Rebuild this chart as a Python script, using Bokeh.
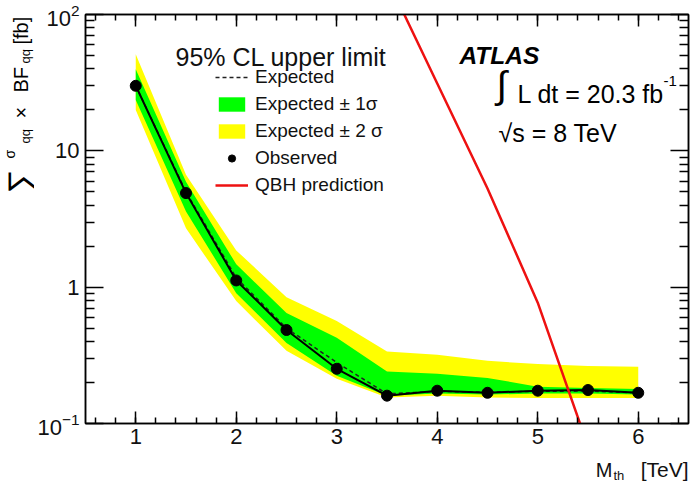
import math

from bokeh.embed import file_html
from bokeh.layouts import column, row
from bokeh.models import (ColumnDataSource, FixedTicker, Label, Legend, LegendItem,
                          LinearAxis, LogAxis, LogTickFormatter, Range1d,
                          SingleIntervalTicker)
from bokeh.plotting import figure
from bokeh.resources import INLINE

# Threshold mass points [TeV]
mass = [1.0, 1.5, 2.0, 2.5, 3.0, 3.5, 4.0, 4.5, 5.0, 5.5, 6.0]

# 95% CL upper limits on sum(sigma x BF) [fb]
observed = [30.0, 4.9, 1.12, 0.485, 0.252, 0.160, 0.174, 0.168, 0.174, 0.176, 0.168]
expected = [30.0, 5.0, 1.17, 0.50, 0.28, 0.165, 0.172, 0.170, 0.172, 0.173, 0.168]
exp_1s_lo = [23.6, 3.59, 0.904, 0.39, 0.224, 0.160, 0.166, 0.163, 0.166, 0.166, 0.163]
exp_1s_hi = [39.7, 5.94, 1.47, 0.646, 0.425, 0.241, 0.232, 0.216, 0.186, 0.182, 0.179]
exp_2s_lo = [19.9, 2.70, 0.79, 0.341, 0.213, 0.155, 0.160, 0.155, 0.154, 0.154, 0.154]
exp_2s_hi = [51.0, 6.68, 1.86, 0.845, 0.565, 0.337, 0.319, 0.288, 0.273, 0.264, 0.261]

# Quantum black hole prediction
qbh_mass = [3.5, 4.0, 4.5, 5.0, 5.5]
qbh_xsec = [184.0, 31.2, 5.3, 0.77, 0.068]

# Axis ticks
y_ticks = [0.1, 1, 10, 100]
y_minor = [m * 10.0 ** e for e in (-1, 0, 1) for m in range(2, 10)]

FONT = "Liberation Sans"

# Page layout: narrow strip for the y title, main plot, strip for the x title
W, H = 696, 482
YT_W = 34                      # y-title strip width
XT_H = 28                      # x-title strip height
MAIN_W, MAIN_H = W - YT_W, H - XT_H
LEFT, RIGHT, TOP, BOTTOM = 51, 8, 14, 31
FRAME_LEFT = YT_W + LEFT       # frame edges on the page
FRAME_BOTTOM = MAIN_H - BOTTOM

src = ColumnDataSource(dict(m=mass, obs=observed, exp=expected,
                            lo1=exp_1s_lo, hi1=exp_1s_hi,
                            lo2=exp_2s_lo, hi2=exp_2s_hi))
qbh = ColumnDataSource(dict(m=qbh_mass, xs=qbh_xsec))

p = figure(width=MAIN_W, height=MAIN_H, x_range=Range1d(0.5, 6.5),
           y_range=Range1d(0.1, 100), y_axis_type="log",
           output_backend="svg", toolbar_location=None,
           min_border_left=LEFT, min_border_right=RIGHT,
           min_border_top=TOP, min_border_bottom=BOTTOM)
p.xgrid.visible = False
p.ygrid.visible = False
p.outline_line_color = "black"
p.outline_line_width = 1.5
p.background_fill_color = "white"
p.border_fill_color = "white"

r2 = p.varea(x="m", y1="lo2", y2="hi2", source=src, fill_color="#ffff00")
r1 = p.varea(x="m", y1="lo1", y2="hi1", source=src, fill_color="#00ff00")
re = p.line(x="m", y="exp", source=src, line_color="#222222", line_width=1.5,
            line_dash="4 3")
p.line(x="m", y="obs", source=src, line_color="black", line_width=2)
ro = p.scatter(x="m", y="obs", source=src, size=11, color="black")
rq = p.line(x="m", y="xs", source=qbh, line_color="#ee1111", line_width=2.5)

x_ticker = SingleIntervalTicker(interval=1, num_minor_ticks=5)
y_ticker = FixedTicker(ticks=y_ticks, minor_ticks=y_minor)


def style_axis(ax, major, minor, show_labels):
    ax.major_tick_in = major
    ax.major_tick_out = 0
    ax.minor_tick_in = minor
    ax.minor_tick_out = 0
    ax.axis_line_width = 1.5
    ax.major_tick_line_width = 1.5
    ax.minor_tick_line_width = 1.5
    ax.axis_line_color = "black"
    ax.major_tick_line_color = "black"
    ax.minor_tick_line_color = "black"
    if show_labels:
        ax.major_label_text_font = FONT
        ax.major_label_text_font_size = "22px"
        ax.major_label_text_color = "#111111"
    else:
        # mirrored frame ticks only
        ax.major_label_text_font_size = "2px"
        ax.major_label_text_color = None
        ax.major_label_standoff = 0


xb = p.xaxis[0]
xb.ticker = x_ticker
style_axis(xb, 12, 6, True)
xb.major_label_standoff = 5

yl = p.yaxis[0]
yl.ticker = y_ticker
yl.formatter = LogTickFormatter(min_exponent=1)
yl.major_label_overrides = {1: "1", 10: "10"}
style_axis(yl, 18, 9, True)
yl.major_label_standoff = 6

xt = LinearAxis(ticker=x_ticker)
style_axis(xt, 12, 6, False)
p.add_layout(xt, "above")

yr = LogAxis(ticker=y_ticker)
style_axis(yr, 18, 9, False)
p.add_layout(yr, "right")


def strip(width, height):
    f = figure(width=width, height=height, x_range=Range1d(0, 1), y_range=Range1d(0, 1),
               output_backend="svg", toolbar_location=None,
               x_axis_location=None, y_axis_location=None,
               min_border=0, min_border_left=0, min_border_right=0,
               min_border_top=0, min_border_bottom=0)
    f.grid.visible = False
    f.outline_line_color = None
    f.background_fill_color = "white"
    f.border_fill_color = "white"
    return f


ytitle = strip(YT_W, MAIN_H)
xtitle = strip(W, XT_H)


def text(fig, ox, oy, s, cx, cy, size, align="left", baseline="alphabetic",
         angle=0.0, style="normal", color="black"):
    """Place a label at page position (cx, cy); (ox, oy) is the page position
    of the bottom-left corner of the figure's frame."""
    fig.add_layout(Label(x=cx - ox, y=oy - cy, x_units="screen", y_units="screen",
                         text=s, text_font=FONT, text_font_size=f"{size}px",
                         text_align=align, text_baseline=baseline, angle=angle,
                         text_font_style=style, text_color=color))


def main_text(*a, **k):
    text(p, FRAME_LEFT, FRAME_BOTTOM, *a, **k)


def y_text(*a, **k):
    # the strip's frame shares its top/bottom edges with the main frame
    text(ytitle, 0, FRAME_BOTTOM, *a, **k)


def x_text(*a, **k):
    text(xtitle, 0, H, *a, **k)


# Legend
legend = Legend(items=[
    LegendItem(label="Expected", renderers=[re]),
    LegendItem(label="Expected ± 1σ", renderers=[r1]),
    LegendItem(label="Expected ± 2 σ", renderers=[r2]),
    LegendItem(label="Observed", renderers=[ro]),
    LegendItem(label="QBH prediction", renderers=[rq]),
], location=(215 - FRAME_LEFT, FRAME_BOTTOM - 196), padding=0, margin=0, spacing=5,
    glyph_width=33, glyph_height=18, label_height=18, label_standoff=7,
    label_text_font=FONT, label_text_font_size="19px", label_text_color="#111111",
    border_line_alpha=0, background_fill_alpha=0)
p.add_layout(legend)

main_text("95% CL upper limit", 175, 56, 25, color="#111111")

# Experiment / dataset labels
main_text("ATLAS", 459, 55, 24.5, style="bold italic")
main_text("∫", 496, 84, 38, baseline="middle")
main_text("L dt = 20.3 fb", 517, 93, 25)
main_text("-1", 663, 80, 15)
main_text("√s = 8 TeV", 498, 132, 25)

# x-axis title
x_text("M", 612, 469, 20, align="right", color="#111111")
x_text("th", 613, 475, 13, color="#111111")
x_text("[TeV]", 688, 469, 21, align="right", color="#111111")

# y-axis title (rotated)
up = math.pi / 2
y_text("∑", 19, 193, 34, baseline="middle", angle=up)
y_text("σ", 9, 158, 14, baseline="middle", angle=up)
y_text("qq", 25, 143, 13, baseline="middle", angle=up)
y_text("×", 20, 118, 20, baseline="middle", angle=up)
y_text("BF", 20, 92, 20, baseline="middle", angle=up)
y_text("qq", 25, 63, 13, baseline="middle", angle=up)
y_text("[fb]", 20, 44, 20, baseline="middle", angle=up)

page = column(row(ytitle, p, spacing=0), xtitle, spacing=0)
open("out.html", "w").write(file_html(page, INLINE))
